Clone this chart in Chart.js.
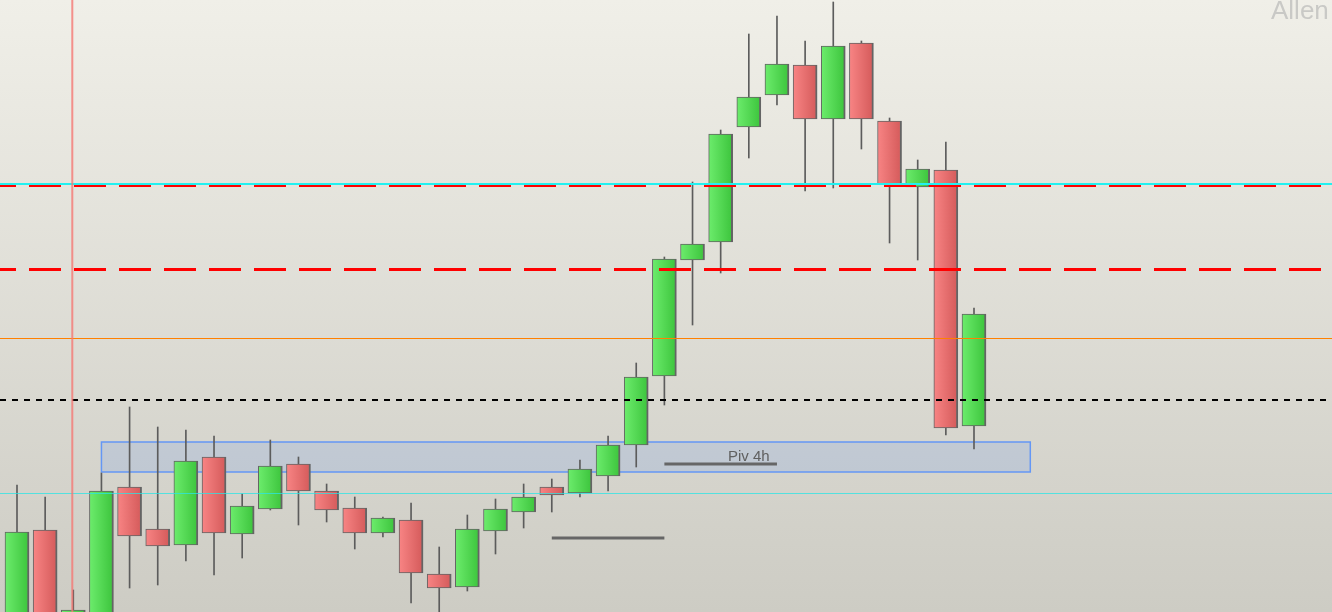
<!DOCTYPE html>
<html>
<head>
<meta charset="utf-8">
<script src="https://cdn.jsdelivr.net/npm/chart.js@4.4.1/dist/chart.umd.min.js"></script>
<style>
  html, body { margin: 0; padding: 0; overflow: hidden; background: #e4e3db; }
  #chart { display: block; }
</style>
</head>
<body>
<canvas id="chart" width="1332" height="612"></canvas>
<script>
// candle data (price units), one entry per bar
const openVals  = [-38,  82,  -6, -38, 125,  83,  67, 155,  78, 103, 148, 121, 104,  79,  92,  38,  25,  81, 100, 125, 119, 136, 167, 236, 352, 370, 485, 517, 547, 493, 569, 491, 425, 442, 186];
const highVals  = [127, 115,  22, 139, 205, 185, 182, 176, 118, 172, 155, 128, 115,  95, 109,  65,  97, 113, 128, 133, 152, 176, 249, 355, 430, 482, 578, 596, 571, 610, 571, 494, 452, 470, 304];
const lowVals   = [-48, -48, -10, -48,  24,  27,  51,  37,  54, 102,  87,  90,  63,  75,   9, -28,  21,  58,  84, 100, 115, 121, 145, 207, 287, 339, 454, 507, 421, 424, 463, 369, 352, 177, 163];
const closeVals = [ 80, -38,   2, 121,  76,  66, 151,  79, 106, 146, 121, 102,  79,  94,  39,  24,  83, 103, 115, 117, 143, 167, 235, 353, 368, 478, 515, 548, 493, 566, 493, 428, 443, 184, 298];

// horizontal levels
const cyanLevel = 428;
const redThinLevel = 426;
const redThickLevel = 343;
const orangeLevel = 274;
const blackLevel = 212;
const lowCyanLevel = 119;

// pivot zone and marks
const zoneTop = 170;
const zoneBottom = 140;
const zoneFrom = 3;
const zoneTo = 36;
const pivLine = [23, 27, 148];
const pivLine2 = [19, 23, 74];
const pivLabel = "Piv 4h";
const markerBar = 2;

const bodies = openVals.map((o, i) => ({ x: i, y: [o, closeVals[i]] }));
const wicks = highVals.map((h, i) => ({ x: i, y: [lowVals[i], h] }));

function bodyFill(ctx) {
  const c = ctx.chart;
  const xs = c.scales.x;
  const up = closeVals[ctx.dataIndex] >= openVals[ctx.dataIndex];
  const flat = up ? "#55d855" : "#ea6b6b";
  if (!xs || !ctx.raw) return flat;
  const cx = xs.getPixelForValue(ctx.raw.x);
  if (!isFinite(cx)) return flat;
  const g = c.ctx.createLinearGradient(cx - 12, 0, cx + 12, 0);
  if (up) {
    g.addColorStop(0, "#6cec6c");
    g.addColorStop(1, "#3cc43c");
  } else {
    g.addColorStop(0, "#f88484");
    g.addColorStop(1, "#d45a5a");
  }
  return g;
}

// background + annotations drawn straight on the canvas
const overlay = {
  id: "overlay",
  beforeDraw(chart) {
    const ctx = chart.ctx;
    const g = ctx.createLinearGradient(0, 0, 0, chart.height);
    g.addColorStop(0, "#f0efe8");
    g.addColorStop(1, "#cdccc4");
    ctx.save();
    ctx.fillStyle = g;
    ctx.fillRect(0, 0, chart.width, chart.height);

    // pivot zone (behind candles)
    const xs = chart.scales.x, ys = chart.scales.y;
    const x1 = xs.getPixelForValue(zoneFrom), x2 = xs.getPixelForValue(zoneTo);
    const y1 = ys.getPixelForValue(zoneTop), y2 = ys.getPixelForValue(zoneBottom);
    ctx.fillStyle = "rgba(100,149,237,0.18)";
    ctx.fillRect(x1, y1, x2 - x1, y2 - y1);
    ctx.strokeStyle = "#6497f5";
    ctx.lineWidth = 1.5;
    ctx.strokeRect(x1, y1, x2 - x1, y2 - y1);

    // Allen watermark
    ctx.fillStyle = "#c9c9c6";
    ctx.font = "26px 'Liberation Sans', Arial, sans-serif";
    ctx.textBaseline = "alphabetic";
    ctx.fillText("Allen", 1271, 19);
    ctx.restore();
  },
  afterDatasetsDraw(chart) {
    const ctx = chart.ctx;
    const xs = chart.scales.x, ys = chart.scales.y;
    const w = chart.width;
    function hline(v, color, width, dash, start) {
      const y = Math.round(ys.getPixelForValue(v)) + (width % 2 ? 0.5 : 0);
      ctx.beginPath();
      ctx.setLineDash(dash);
      ctx.strokeStyle = color;
      ctx.lineWidth = width;
      ctx.moveTo(start, y);
      ctx.lineTo(w, y);
      ctx.stroke();
    }
    ctx.save();
    hline(redThinLevel, "#ff0000", 2, [32, 13], -16);
    hline(cyanLevel, "#22f0f0", 2, [], 0);
    hline(redThickLevel, "#ff0000", 3, [32, 13], -16);
    hline(orangeLevel, "#ff8000", 1, [], 0);
    hline(blackLevel, "#000000", 2, [6, 6], 0);
    hline(lowCyanLevel, "rgba(40,230,230,0.75)", 1, [], 0);

    // marker bar
    ctx.setLineDash([]);
    const mx = xs.getPixelForValue(markerBar) - 1;
    ctx.strokeStyle = "rgba(245,120,115,0.8)";
    ctx.lineWidth = 2;
    ctx.beginPath();
    ctx.moveTo(mx, 0);
    ctx.lineTo(mx, chart.height);
    ctx.stroke();

    // pivot lines + label
    ctx.strokeStyle = "#666666";
    ctx.lineWidth = 3;
    [pivLine, pivLine2].forEach(p => {
      const py = ys.getPixelForValue(p[2]);
      ctx.beginPath();
      ctx.moveTo(xs.getPixelForValue(p[0]), py);
      ctx.lineTo(xs.getPixelForValue(p[1]), py);
      ctx.stroke();
    });
    ctx.fillStyle = "#606060";
    ctx.font = "15px 'Liberation Sans', Arial, sans-serif";
    ctx.fillText(pivLabel, 728, 461);
    ctx.restore();
  }
};

new Chart(document.getElementById("chart"), {
  type: "bar",
  data: {
    datasets: [
      {
        data: bodies,
        order: 0,
        barThickness: 24,
        grouped: false,
        backgroundColor: bodyFill,
        borderColor: "#646464",
        borderWidth: { top: 1, left: 1, bottom: 1, right: 2 },
        borderSkipped: false,
      },
      {
        data: wicks,
        order: 1,
        barThickness: 1,
        grouped: false,
        backgroundColor: "#5c5c5c",
        borderWidth: 0,
      },
    ],
  },
  options: {
    responsive: false,
    animation: false,
    events: [],
    layout: { padding: 0 },
    plugins: {
      legend: { display: false },
      tooltip: { enabled: false },
    },
    scales: {
      x: { type: "linear", min: -0.604, max: 46.719, offset: false, display: false },
      y: { min: 0, max: 612, display: false },
    },
  },
  plugins: [overlay],
});
</script>
</body>
</html>
